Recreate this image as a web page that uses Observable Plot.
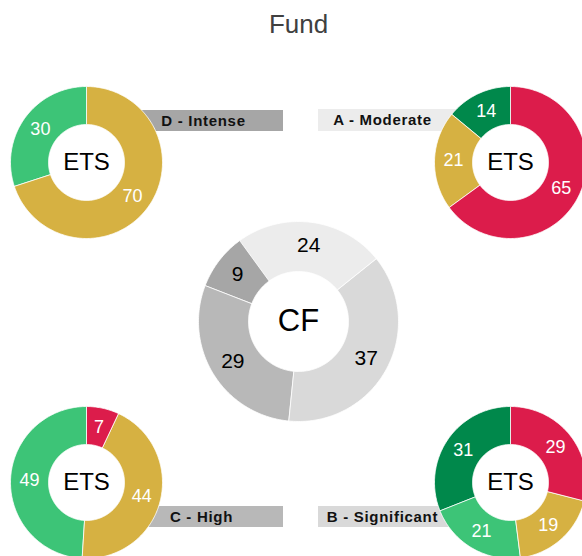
<!DOCTYPE html>
<html><head><meta charset="utf-8">
<script src="https://cdn.jsdelivr.net/npm/d3@7"></script>
<script src="https://cdn.jsdelivr.net/npm/@observablehq/plot@0.6"></script>
<style>
html,body{margin:0;padding:0;background:#fff;overflow:hidden}
svg{display:block;overflow:hidden}
g[font-weight="bold"] text{letter-spacing:0.7px}
</style>
</head><body><div id="chart"></div>
<script>
// ---- data ----
const title = "Fund";
const groups = ["A - Moderate", "B - Significant", "C - High", "D - Intense"];
const cfValues = [24, 37, 29, 9];
const cfColors = ["#ececec", "#d9d9d9", "#b8b8b8", "#a6a6a6"];
const etsStatuses = ["Red", "Amber", "Green", "Dark green"];
const etsColors = ["#dc1c4b", "#d6b142", "#3dc477", "#00884b"];
const etsA = [65, 21, 0, 14];
const etsB = [29, 19, 21, 31];
const etsC = [7, 44, 49, 0];
const etsD = [0, 70, 30, 0];
const cfLabel = "CF";
const etsLabel = "ETS";

// ---- layout (not data) ----
const W = 582, H = 556;
const cfLayout = {cx: 298, cy: 321, r0: 50, r1: 100, labelR: 77, start: -36};
const etsR = {r0: 38, r1: 76, labelR: 57};
const layout = {
  "A - Moderate":    {cx: 510, cy: 162, bar: [318, 470, 109, 131], textX: 382},
  "B - Significant": {cx: 510, cy: 482, bar: [318, 470, 506, 527], textX: 382},
  "C - High":        {cx: 86,  cy: 482, bar: [119, 283, 506, 527], textX: 201},
  "D - Intense":     {cx: 86,  cy: 162, bar: [123, 283, 110, 131], textX: 203}
};
const etsByGroup = {"A - Moderate": etsA, "B - Significant": etsB, "C - High": etsC, "D - Intense": etsD};

// ---- geometry helpers ----
const rad = d => d * Math.PI / 180;
const px = (cx, r, a) => cx + r * Math.sin(rad(a));
const py = (cy, r, a) => cy - r * Math.cos(rad(a));

const slicePts = [];
const sliceLabels = [];
function addDonut(id, values, colors, cx, cy, r0, r1, labelR, start, labelFill) {
  const total = d3.sum(values);
  let a = start;
  values.forEach((v, i) => {
    if (!v) return;
    const a0 = a, a1 = a + v / total * 360;
    a = a1;
    const n = Math.max(2, Math.ceil(a1 - a0));
    const key = id + "-" + i;
    for (let k = 0; k <= n; k++) {
      const t = a0 + (a1 - a0) * k / n;
      slicePts.push({key, x: px(cx, r1, t), y: py(cy, r1, t), color: colors[i]});
    }
    for (let k = n; k >= 0; k--) {
      const t = a0 + (a1 - a0) * k / n;
      slicePts.push({key, x: px(cx, r0, t), y: py(cy, r0, t), color: colors[i]});
    }
    const m = (a0 + a1) / 2;
    sliceLabels.push({x: px(cx, labelR, m), y: py(cy, labelR, m), text: String(v), fill: labelFill, donut: id});
  });
}

addDonut("CF", cfValues, cfColors, cfLayout.cx, cfLayout.cy, cfLayout.r0, cfLayout.r1, cfLayout.labelR, cfLayout.start, "#000");
groups.forEach(g => {
  const L = layout[g];
  addDonut(g, etsByGroup[g], etsColors, L.cx, L.cy, etsR.r0, etsR.r1, etsR.labelR, 0, "#fff");
});

const bars = groups.map((g, i) => ({
  g, x1: layout[g].bar[0], x2: layout[g].bar[1], y1: layout[g].bar[2], y2: layout[g].bar[3],
  tx: layout[g].textX, ty: (layout[g].bar[2] + layout[g].bar[3]) / 2, color: cfColors[i]
}));
const centers = groups.map(g => ({x: layout[g].cx, y: layout[g].cy, text: etsLabel}));

const font = "'Liberation Sans', Arial, Helvetica, sans-serif";

const chart = Plot.plot({
  width: W, height: H,
  margin: 0,
  x: {domain: [0, W], range: [0, W], axis: null},
  y: {domain: [0, H], range: [0, H], axis: null},
  style: {fontFamily: font, background: "#fff", overflow: "hidden"},
  marks: [
    Plot.rect(bars, {x1: "x1", x2: "x2", y1: "y1", y2: "y2", fill: "color"}),
    Plot.text(bars, {x: "tx", y: "ty", text: "g", fontSize: 15, fontWeight: "bold", fill: "#111"}),
    Plot.line(slicePts, {x: "x", y: "y", z: "key", fill: "color", stroke: "#fff", strokeWidth: 0.8, curve: "linear-closed"}),
    Plot.text(sliceLabels.filter(d => d.donut !== "CF"), {x: "x", y: "y", text: "text", fill: "#fff", fontSize: 18}),
    Plot.text(sliceLabels.filter(d => d.donut === "CF"), {x: "x", y: "y", text: "text", fill: "#000", fontSize: 21}),
    Plot.text(centers, {x: "x", y: "y", text: "text", fontSize: 24, fill: "#000"}),
    Plot.text([cfLabel], {x: () => cfLayout.cx, y: () => cfLayout.cy, text: d => d, fontSize: 31, fill: "#000"}),
    Plot.text([title], {frameAnchor: "top", lineAnchor: "middle", dx: 7, dy: 24, fontSize: 26, fill: "#404040"})
  ]
});
d3.select(chart).selectAll('g[font-weight="bold"] text').attr("letter-spacing", "0.7px");
document.getElementById("chart").appendChild(chart);
</script>
</body></html>
